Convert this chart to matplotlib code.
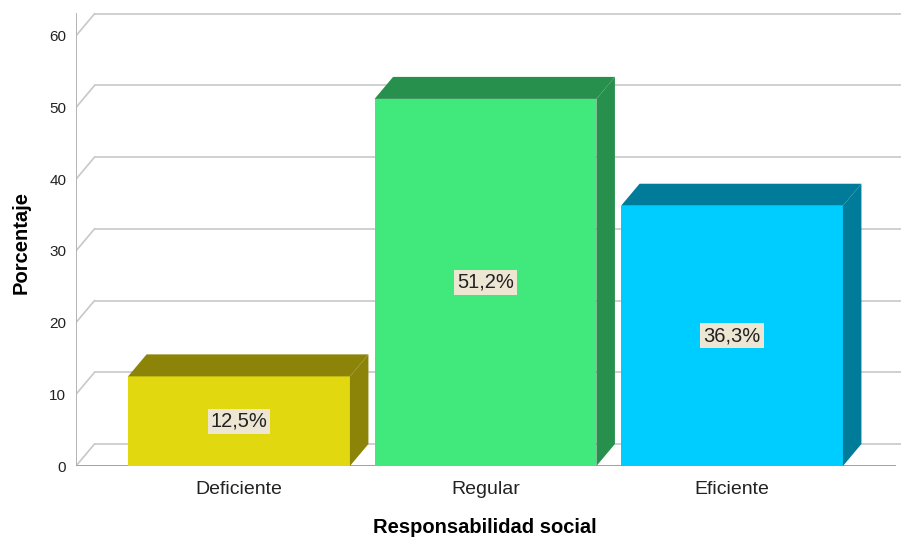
import matplotlib
matplotlib.use("Agg")
import matplotlib.pyplot as plt
from matplotlib.patches import Polygon

plt.rcParams["font.family"] = ["Liberation Sans", "DejaVu Sans"]

# ---- datos ----
categorias = ["Deficiente", "Regular", "Eficiente"]
porcentajes = [12.5, 51.2, 36.3]
etiquetas = ["12,5%", "51,2%", "36,3%"]
ticks_y = [0, 10, 20, 30, 40, 50, 60]

col_frente = ["#e2d810", "#41e97d", "#00cdff"]
col_sombra = ["#8c8409", "#27904d", "#007b99"]

# ---- geometria (pixeles de la figura) ----
W, H = 901, 541
px_x0, px_y0 = 76, 466          # origen del plano frontal
px_cat = 246.5                  # separacion entre categorias
px_pct = 7.17                   # pixeles por punto porcentual
centro0 = 239                   # centro de la primera barra
YMAX = 63.5

xmin = -(centro0 - px_x0) / px_cat
xmax = (W - centro0) / px_cat
px_top = px_y0 - YMAX * px_pct

DX = 18.5 / px_cat              # profundidad en unidades de datos
DY = 22 / px_pct
ANCHO = 0.9

fig = plt.figure(figsize=(W / 100, H / 100), dpi=100)
ax = fig.add_axes([px_x0 / W, (H - px_y0) / H, (W - px_x0) / W, (px_y0 - px_top) / H])
ax.set_xlim(xmin, xmax)
ax.set_ylim(0, YMAX)
for s in ax.spines.values():
    s.set_visible(False)

# pared del fondo: rejilla con diagonales hacia el eje frontal
gris = "#c8c8c8"
for v in ticks_y:
    ax.plot([xmin + DX, xmax], [v + DY, v + DY], color=gris, lw=1.2, zorder=1)
    ax.plot([xmin, xmin + DX], [v, v + DY], color=gris, lw=1.2, zorder=1)
ax.plot([xmin, xmin], [0, ticks_y[-1] + DY], color="#b4b4b4", lw=1.4, zorder=1)
ax.plot([xmin, 2.66], [0, 0], color="#a0a0a0", lw=1.4, zorder=1)

# barras 3D: cara frontal, tapa y lateral
xs = range(len(categorias))
ax.bar(xs, porcentajes, width=ANCHO, color=col_frente, zorder=3)
for x, v, cs in zip(xs, porcentajes, col_sombra):
    l, r = x - ANCHO / 2, x + ANCHO / 2
    tapa = Polygon([(l, v), (r, v), (r + DX, v + DY), (l + DX, v + DY)],
                   closed=True, facecolor=cs, edgecolor="none", zorder=3)
    lado = Polygon([(r, 0), (r + DX, DY), (r + DX, v + DY), (r, v)],
                   closed=True, facecolor=cs, edgecolor="none", zorder=3)
    ax.add_patch(tapa)
    ax.add_patch(lado)

for x, v, t in zip(xs, porcentajes, etiquetas):
    ax.text(x, v / 2, t, ha="center", va="center", fontsize=14.5, color="#222222",
            zorder=5, bbox=dict(boxstyle="square,pad=0.15", facecolor="#ece6d3",
                                edgecolor="none"))

ax.set_yticks(ticks_y)
ax.set_yticklabels([str(t) for t in ticks_y], fontsize=11, color="#222222")
ax.set_xticks(list(xs))
ax.set_xticklabels(categorias, fontsize=14, color="#222222")
ax.tick_params(axis="y", length=0, pad=7)
ax.tick_params(axis="x", length=0, pad=11)

ax.set_xlabel("Responsabilidad social", fontsize=14.5, fontweight="bold")
ax.xaxis.set_label_coords((485 - px_x0) / (W - px_x0), -(518 - px_y0) / (px_y0 - px_top))
ax.set_ylabel("Porcentaje", fontsize=14.5, fontweight="bold")
ax.yaxis.set_label_coords(-(px_x0 - 31) / (W - px_x0), (px_y0 - 243) / (px_y0 - px_top))

fig.savefig("out.png", dpi=100)
